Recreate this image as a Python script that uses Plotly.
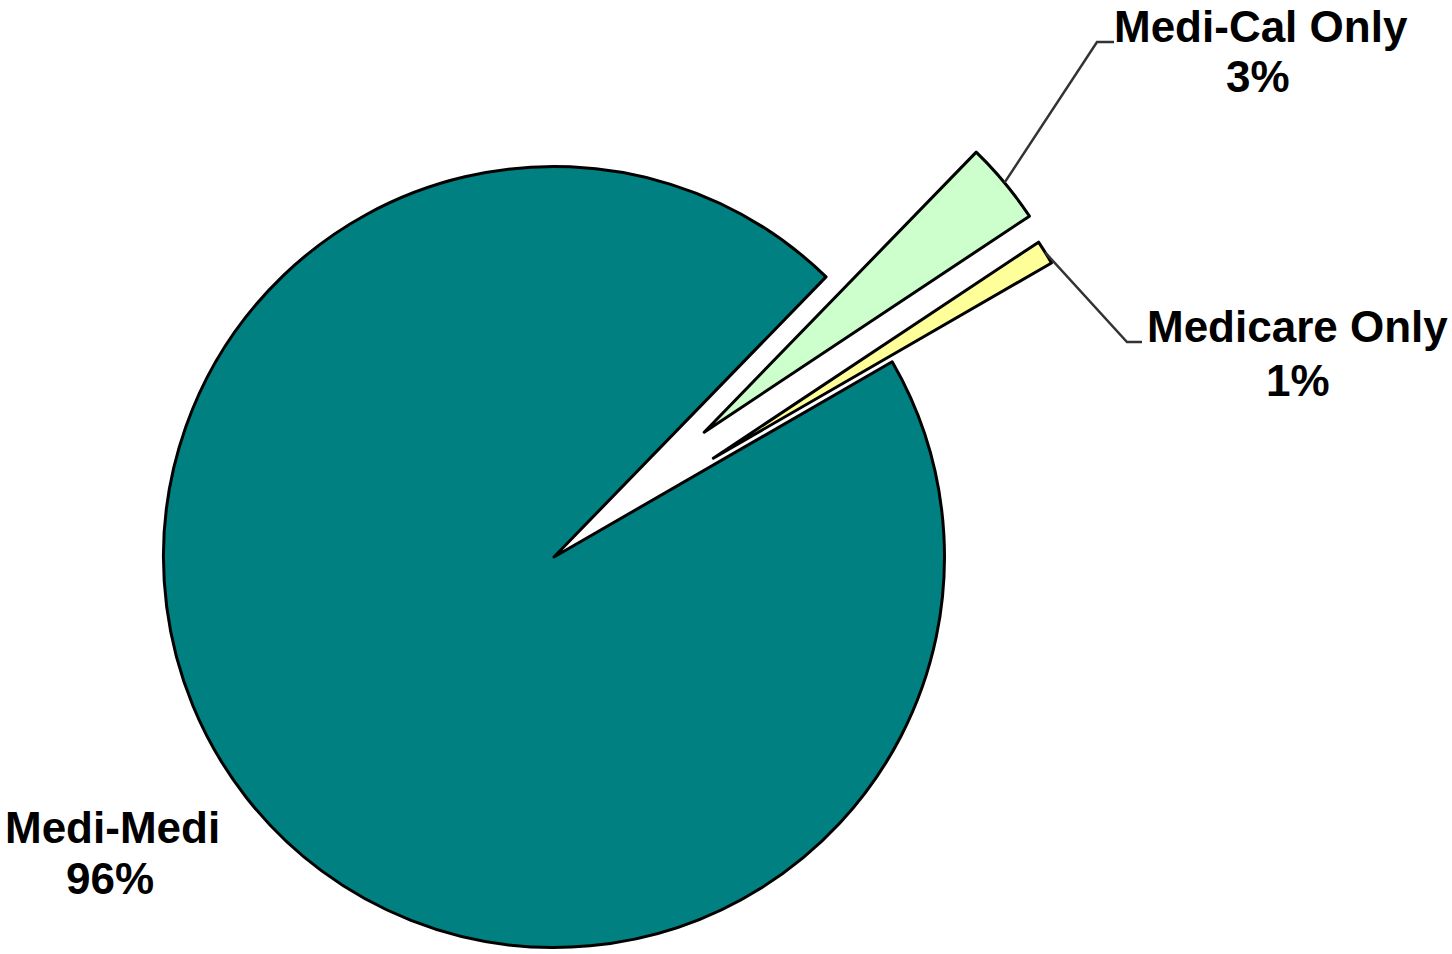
import math
import plotly.graph_objects as go

# ---- data ----
labels = ["Medi-Medi", "Medi-Cal Only", "Medicare Only"]
values = [95.6, 3.4, 1.0]
pct_text = ["96%", "3%", "1%"]
colors = ["#008080", "#CCFFCC", "#FFFF99"]
pulls = [0.0, 0.5, 0.48]

# ---- layout constants (pixels) ----
W, H = 1452, 954
CX, CY, R = 554, 557, 390.5
ROTATION = 60.0
TRANSPARENT = "rgba(0,0,0,0)"

total = sum(values)
fig = go.Figure()

centers = []
mids = []
cum = 0.0
for i, v in enumerate(values):
    start = ROTATION + 360.0 * cum / total
    mid = start + 360.0 * v / total / 2.0
    cum += v
    a = math.radians(mid)
    ox = pulls[i] * R * math.sin(a)
    oy = -pulls[i] * R * math.cos(a)
    cx, cy = CX + ox, CY + oy
    centers.append((cx, cy))
    mids.append(a)
    cols = [colors[j] if j == i else TRANSPARENT for j in range(len(values))]
    lws = [3 if j == i else 0 for j in range(len(values))]
    fig.add_trace(go.Pie(
        labels=labels,
        values=values,
        sort=False,
        direction="clockwise",
        rotation=ROTATION,
        marker=dict(colors=cols, line=dict(color="#000000", width=lws)),
        textinfo="none",
        hoverinfo="skip",
        showlegend=False,
        domain=dict(
            x=[(cx - R) / W, (cx + R) / W],
            y=[1 - (cy + R) / H, 1 - (cy - R) / H],
        ),
    ))

def px(x):
    return x / W

def py(y):
    return 1 - y / H

# leader lines for the small slices
elbows = {1: [(1097, 42), (1114, 42)], 2: [(1127, 342), (1142, 342)]}
shapes = []
for i, pts in elbows.items():
    cx, cy = centers[i]
    a = mids[i]
    sx, sy = cx + R * math.sin(a), cy - R * math.cos(a)
    path_pts = [(sx, sy)] + pts
    d = "M " + " L ".join(f"{px(x):.5f},{py(y):.5f}" for x, y in path_pts)
    shapes.append(dict(type="path", xref="paper", yref="paper", path=d,
                       line=dict(color="#333333", width=2.5)))

# label positions (centre of text, pixels)
label_pos = [((112, 827), (110, 878)),
             ((1261, 26), (1258, 76)),
             ((1297, 326), (1298, 380))]
annotations = []
for i in range(len(labels)):
    (x1, y1), (x2, y2) = label_pos[i]
    for txt, (x, y) in ((labels[i], (x1, y1)), (pct_text[i], (x2, y2))):
        annotations.append(dict(
            text=f"<b>{txt}</b>", x=px(x), y=py(y), xref="paper", yref="paper",
            xanchor="center", yanchor="middle", showarrow=False,
            font=dict(family="Liberation Sans, Arial, sans-serif", size=44, color="#000000"),
        ))

fig.update_layout(
    width=W, height=H,
    margin=dict(l=0, r=0, t=0, b=0),
    paper_bgcolor="white", plot_bgcolor="white",
    shapes=shapes, annotations=annotations,
    showlegend=False,
)

fig.write_html("out.html")
